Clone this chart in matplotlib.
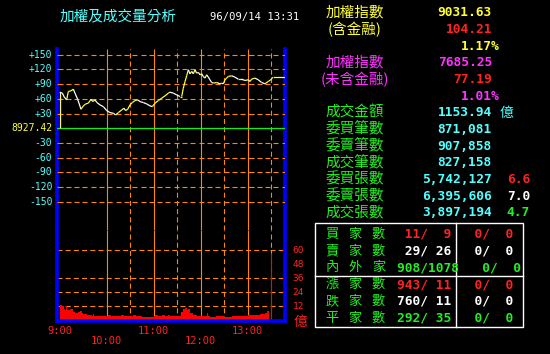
import matplotlib
matplotlib.use('Agg')
import matplotlib.pyplot as plt
from matplotlib.collections import LineCollection
from matplotlib.patches import Rectangle
from matplotlib.lines import Line2D
import numpy as np

plt.rcParams['lines.scale_dashes'] = False
CJK = ['Noto Sans CJK TC', 'DejaVu Sans']
MONO = 'DejaVu Sans Mono'

# index change vs previous close, minutes after 9:00
prev_close = 8927.42
idx_t = [0, 0, 3.4, 5.9, 8.9, 11.0, 14.4, 17.4, 19.5, 22.9, 27.2, 30.2, 33.2, 36.5, 40.0,
         42.1, 45.1, 47.6, 51.4, 55.7, 60.0, 64.2, 68.5, 71.4, 74.9, 79.1, 82.1, 84.2, 86.8,
         89.7, 92.7, 96.1, 99.5, 102.5, 106.8, 111.0, 115.3, 118.3, 121.7, 125.9, 130.2,
         134.4, 138.7, 140.8, 145.1, 149.3, 153.6, 155.7, 157.8, 160.0, 162.1, 164.2, 166.3,
         168.5, 170.6, 172.7, 174.8, 177.0, 179.1, 181.2, 183.3, 185.5, 187.6, 189.7, 191.8,
         194.0, 196.1, 200.3, 204.6, 206.7, 208.8, 211.0, 213.1, 215.2, 219.5, 223.7, 228.0,
         232.2, 236.5, 240.7, 242.8, 245.0, 249.2, 253.5, 257.7, 262.0, 266.2, 270.5, 271.7,
         287.6]
idx_v = [0, 73.6, 71.6, 63.4, 57.9, 74.9, 76.3, 79.7, 71.6, 59.3, 38.8, 45.6, 49.7, 51.1,
         59.3, 54.5, 57.9, 52.4, 47.7, 44.2, 36.1, 32.0, 30.6, 27.2, 32.0, 37.4, 40.8, 36.1,
         38.8, 47.7, 52.4, 56.5, 57.9, 54.5, 52.4, 49.7, 45.6, 44.2, 51.1, 56.5, 61.3, 66.1,
         71.6, 73.6, 71.6, 68.1, 64.7, 64.7, 81.7, 95.4, 107.0, 119.2, 111.0, 115.8, 111.0,
         119.2, 112.4, 113.8, 109.0, 111.0, 105.6, 102.2, 109.0, 104.2, 98.8, 93.3, 92.0,
         93.3, 90.6, 92.0, 90.6, 98.8, 102.2, 105.6, 107.0, 104.2, 100.1, 100.1, 97.4, 98.8,
         95.4, 100.1, 102.2, 98.8, 93.3, 90.6, 95.4, 100.1, 104.21, 104.21]

# traded value (億) per period
vol_edges = [0, 1, 3, 5, 7, 8, 9, 11, 13, 15, 17, 19, 22, 24, 26, 28, 30, 32, 35, 38, 41, 43,
             44, 47, 50, 53, 57, 62, 66, 70, 74, 78, 82, 86, 90, 94, 98, 102, 105, 110, 115,
             120, 122, 126, 130, 134, 138, 141, 146, 151, 155, 157, 160, 162, 164, 166, 170,
             175, 180, 185, 188, 189, 192, 200, 210, 220, 230, 240, 246, 252, 256, 262, 264, 267]
vol_vals = [34, 13, 12, 10, 8.6, 12, 9, 8.9, 9.4, 10, 7.1, 6, 6.6, 7.1, 7.7, 6, 5.7, 5.1, 4.6,
            4.3, 4.0, 5.4, 3.7, 4.0, 3.4, 4.0, 3.7, 4.3, 3.4, 4.0, 3.7, 4.3, 3.4, 4.0, 3.7, 4.6,
            3.7, 4.0, 2.9, 3.1, 2.9, 3.4, 4.3, 4.0, 4.6, 4.0, 4.3, 3.7, 3.4, 4.0, 7.1, 10, 10.9,
            8.6, 9.4, 6, 4.9, 3.7, 4.0, 3.4, 6.3, 3.4, 3.1, 3.4, 3.1, 3.7, 3.4, 4.9, 4.3, 4.9,
            5.7, 6.6, 8]
close_t, close_vol = 270, 58

idx_ticks = [150, 120, 90, 60, 30, 0, -30, -60, -90, -120, -150]
idx_grid = [150, 120, 90, 60, 30, -30, -60, -90, -120, -150]
vol_grid = [12, 24, 36, 60]
vol_ticks = [12, 24, 36, 48, 60]
time_ticks = [0, 60, 120, 180, 240]
time_labels = ['9:00', '10:00', '11:00', '12:00', '13:00']
half_hours = [90, 150, 210, 270]

info_labels = ['加權指數', '(含金融)', '', '加權指數', '(未含金融)', '', '成交金額',
               '委買筆數', '委賣筆數', '成交筆數', '委買張數', '委賣張數', '成交張數']
info_values = ['9031.63', '104.21', '1.17%', '7685.25', '77.19', '1.01%', '1153.94',
               '871,081', '907,858', '827,158', '5,742,127', '6,395,606', '3,897,194']
ratios = ['6.6', '7.0', '4.7']

tbl_labels = ['買家數', '賣家數', '內外家', '漲家數', '跌家數', '平家數']
tbl_a = [11, 29, 908, 943, 760, 292]
tbl_b = [9, 26, 1078, 11, 11, 35]
tbl_c = [0, 0, 0, 0, 0, 0]
tbl_d = [0, 0, 0, 0, 0, 0]

CYAN = '#55ffff'
YELLOW = '#ffff33'
RED = '#ff2222'
GREEN = '#22ee22'
MAG = '#ff33ff'
WHITE = '#ffffff'
ORANGE = '#ff8a00'
BLUE = '#0000ff'

W, H = 550, 354
fig = plt.figure(figsize=(5.5, 3.54), dpi=100, facecolor='black')


def fx(x):
    return x / W


def fy(y):
    return 1 - y / H


L, R, TOP, MID, BOT = 57.5, 285, 49, 230, 321
XLIM = (-2.8, 287.6)
YTOP = (-207.1, 161.5)
YBOT = (-0.6, 77.4)
rect_top = [fx(L), fy(MID), (R - L) / W, (MID - TOP) / H]
ax = fig.add_axes(rect_top)
axb = fig.add_axes([fx(L), fy(BOT), (R - L) / W, (BOT - MID) / H])
dash = (0, (3.6, 2.3))
for a, yl in ((ax, YTOP), (axb, YBOT)):
    a.set_facecolor('black')
    a.set_xticks([])
    a.set_yticks([])
    for s in a.spines.values():
        s.set_visible(False)
    for s in ('left', 'right'):
        a.spines[s].set_visible(True)
        a.spines[s].set_color(BLUE)
        a.spines[s].set_linewidth(2.6)
    a.vlines(time_ticks[1:], yl[0], yl[1], colors=ORANGE, lw=0.8, zorder=1)
    a.vlines(half_hours, yl[0], yl[1], colors=ORANGE, lw=0.8, linestyles=dash, zorder=1)
    a.set_xlim(*XLIM)
    a.set_ylim(*yl)
axb.spines['bottom'].set_visible(True)
axb.spines['bottom'].set_color(BLUE)
axb.spines['bottom'].set_linewidth(2.6)
axb.hlines(vol_grid, XLIM[0], XLIM[1], colors=ORANGE, lw=0.8, linestyles=dash, zorder=1)

# overlay for the index panel: grid, zero line, index trace
axg = fig.add_axes(rect_top)
axg.patch.set_visible(False)
axg.set_axis_off()
# dashed grid built from short solid pieces (about 5 px on, 3.3 px off)
starts = np.arange(XLIM[0], XLIM[1], 10.6)
grid_segs = [[(s, v), (min(s + 6.4, XLIM[1]), v)] for v in idx_grid for s in starts]
axg.add_collection(LineCollection(grid_segs, colors=ORANGE, linewidths=0.8, zorder=1),
                   autolim=False)
axg.axhline(0, color='#11ee11', lw=0.9, zorder=2)
pts = np.column_stack([idx_t, idx_v])
segs = np.stack([pts[:-1], pts[1:]], axis=1)
cols = [YELLOW if b >= a else WHITE for a, b in zip(idx_v[:-1], idx_v[1:])]
axg.add_collection(LineCollection(segs, colors=cols, linewidths=0.9, zorder=3), autolim=False)
axg.set_xlim(*XLIM)
axg.set_ylim(*YTOP)

axb.stairs(vol_vals, vol_edges, fill=True, color='#ff0000', zorder=2)
axb.vlines(close_t, 0, close_vol, color='#ff0000', lw=0.8, zorder=2)
axb.set_xlim(*XLIM)
axb.set_ylim(*YBOT)

# axis labels as text
ytr = axg.get_yaxis_transform()
for v in idx_ticks:
    lab = f'{prev_close:.2f}' if v == 0 else f'{v:+d}'
    axg.text(-5.2 / (R - L), v, lab, transform=ytr, color=YELLOW if v == 0 else CYAN,
             fontsize=7, family=MONO, ha='right', va='center', clip_on=False)
ybtr = axb.get_yaxis_transform()
for v in vol_ticks:
    axb.text(1 + 7.7 / (R - L), v, str(v), transform=ybtr, color=RED, fontsize=6.8,
             family=MONO, ha='left', va='center', clip_on=False)
fig.text(fx(300), fy(321.5), '億', color=RED, fontsize=10, family=CJK, ha='center', va='center')

xtr = axb.get_xaxis_transform()
hb = BOT - MID
for i, (t, lab) in enumerate(zip(time_ticks, time_labels)):
    yy = -10 / hb if i % 2 == 0 else -19.7 / hb
    axb.text(t, yy, lab, transform=xtr, color=RED, fontsize=7.5, family=MONO,
             ha='center', va='center', clip_on=False)

fig.text(fx(118), fy(16.7), '加權及成交量分析', color=CYAN, fontsize=10.5, family=CJK,
         ha='center', va='center')
fig.text(fx(254.5), fy(16.7), '96/09/14 13:31', color=WHITE, fontsize=7.6, family=MONO,
         ha='center', va='center')

lab_cols = [YELLOW, YELLOW, YELLOW, MAG, MAG, MAG] + [GREEN] * 7
val_cols = [YELLOW, RED, YELLOW, MAG, RED, MAG] + [CYAN] * 7
for i, (lab, val) in enumerate(zip(info_labels, info_values)):
    y = 12.7 + 16.67 * i
    if lab:
        fig.text(fx(354.5), fy(y), lab, color=lab_cols[i], fontsize=10.5, family=CJK,
                 ha='center', va='center')
    xr = 499.8 if val.endswith('%') else 492
    fig.text(fx(xr), fy(y), val, color=val_cols[i], fontsize=9.3, family=MONO,
             weight='bold', ha='right', va='center')
fig.text(fx(500), fy(12.7 + 16.67 * 6), '億', color=CYAN, fontsize=10, family=CJK,
         ha='left', va='center')
for k, (r, c) in enumerate(zip(ratios, [RED, WHITE, GREEN])):
    fig.text(fx(530), fy(12.7 + 16.67 * (10 + k)), r, color=c, fontsize=9.3, family=MONO,
             weight='bold', ha='right', va='center')

# breadth table
fig.add_artist(Rectangle((fx(315), fy(327.3)), 208.3 / W, 104 / H, transform=fig.transFigure,
                         fill=False, ec=WHITE, lw=1))
fig.add_artist(Line2D([fx(455.7)] * 2, [fy(223.3), fy(327.3)], transform=fig.transFigure,
                      color=WHITE, lw=1))
fig.add_artist(Line2D([fx(315), fx(523.3)], [fy(275.7)] * 2, transform=fig.transFigure,
                      color=WHITE, lw=1))
row_cols = [RED, WHITE, GREEN, RED, WHITE, GREEN]
for k, lab in enumerate(tbl_labels):
    y = 234.3 + 16.8 * k
    for j, ch in enumerate(lab):
        fig.text(fx(331.7 + 23.3 * j), fy(y), ch, color=GREEN, fontsize=9.5, family=CJK,
                 ha='center', va='center')
    s = f'{tbl_a[k]:>3}/{tbl_b[k]:>3} {tbl_c[k]:>3}/{tbl_d[k]:>3}'
    fig.text(fx(396.7), fy(y), s, color=row_cols[k], fontsize=9.3, family=MONO,
             weight='bold', ha='left', va='center')

fig.savefig('out.png', dpi=100, facecolor='black')
